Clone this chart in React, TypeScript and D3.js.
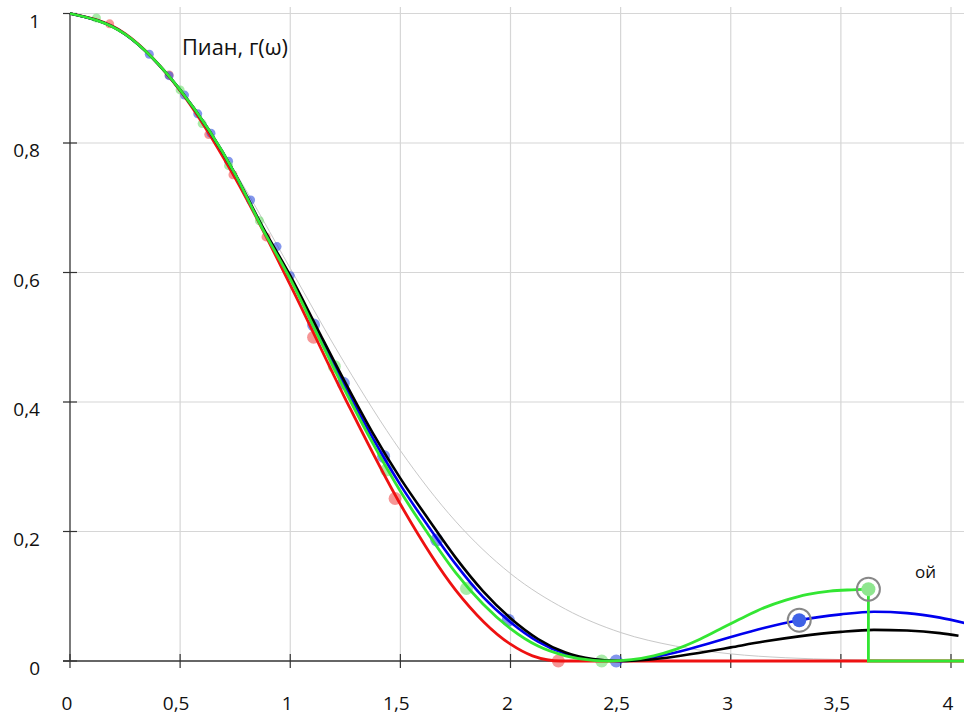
import React from "react";
import * as d3 from "d3";

// ---- data ----
const xTicks = [0, 0.5, 1, 1.5, 2, 2.5, 3, 3.5, 4];
const xTickLabels = ["0", "0,5", "1", "1,5", "2", "2,5", "3", "3,5", "4"];
const yTicks = [0, 0.2, 0.4, 0.6, 0.8, 1];
const yTickLabels = ["0", "0,2", "0,4", "0,6", "0,8", "1"];

const grayX = [0, 0.25, 0.5, 0.75, 1, 1.25, 1.5, 1.75, 2, 2.25, 2.5, 2.75, 3, 3.25, 3.5, 3.75, 4, 4.07];
const grayY = [1, 0.969, 0.8825, 0.755, 0.6065, 0.458, 0.325, 0.216, 0.135, 0.08, 0.044, 0.023, 0.011, 0.005, 0.0022, 0.0009, 0.0003, 0.0003];

const redX = [0, 0.25, 0.5, 0.75, 1, 1.25, 1.5, 1.75, 2, 2.1, 2.23, 3, 4.07];
const redY = [1, 0.969, 0.881, 0.746, 0.581, 0.405, 0.242, 0.11, 0.026, 0.008, 0, 0, 0];

const blueX = [0, 0.25, 0.5, 0.75, 0.875, 1, 1.125, 1.25, 1.375, 1.5, 1.625, 1.75, 1.875, 2, 2.125, 2.25, 2.375, 2.5, 2.6, 2.75, 2.9, 3, 3.15, 3.31, 3.5, 3.65, 3.8, 3.95, 4.07];
const blueY = [1, 0.968, 0.882, 0.752, 0.668, 0.593, 0.507, 0.423, 0.344, 0.272, 0.209, 0.15, 0.099, 0.06, 0.03, 0.011, 0.002, 0, 0.003, 0.013, 0.027, 0.037, 0.051, 0.063, 0.072, 0.076, 0.074, 0.067, 0.058];

const blackX = [0, 0.25, 0.5, 0.75, 0.875, 1, 1.125, 1.25, 1.375, 1.5, 1.625, 1.75, 1.875, 2, 2.125, 2.25, 2.375, 2.5, 2.625, 2.75, 2.9, 3, 3.15, 3.31, 3.5, 3.65, 3.8, 3.95, 4.034];
const blackY = [1, 0.968, 0.882, 0.752, 0.67, 0.595, 0.512, 0.43, 0.352, 0.282, 0.22, 0.16, 0.108, 0.066, 0.034, 0.013, 0.003, 0, 0.002, 0.007, 0.015, 0.021, 0.03, 0.038, 0.045, 0.048, 0.047, 0.043, 0.039];

const greenX = [0, 0.25, 0.5, 0.75, 0.875, 1, 1.125, 1.25, 1.375, 1.5, 1.625, 1.75, 1.875, 2, 2.125, 2.25, 2.375, 2.45, 2.55, 2.65, 2.75, 2.85, 2.95, 3.05, 3.15, 3.25, 3.35, 3.45, 3.55, 3.625];
const greenY = [1, 0.968, 0.882, 0.752, 0.667, 0.59, 0.503, 0.417, 0.336, 0.262, 0.197, 0.137, 0.088, 0.05, 0.023, 0.008, 0.001, 0, 0.002, 0.008, 0.018, 0.032, 0.049, 0.066, 0.082, 0.094, 0.103, 0.108, 0.11, 0.111];
const greenTailX = [3.625, 3.625, 4.07];
const greenTailY = [0.111, 0, 0];

const redDotX = [0.18, 0.45, 0.63, 0.74, 0.89, 1.106, 1.476, 2.217];
const redDotY = [0.984, 0.905, 0.813, 0.751, 0.655, 0.5, 0.251, 0];
const blueDotX = [0.36, 0.45, 0.52, 0.58, 0.64, 0.72, 0.82, 0.94, 1.0, 1.106, 1.241, 1.424, 1.665, 1.99, 2.48];
const blueDotY = [0.937, 0.904, 0.874, 0.845, 0.815, 0.772, 0.712, 0.64, 0.595, 0.519, 0.429, 0.316, 0.187, 0.063, 0];
const greenDotX = [0.12, 0.5, 0.6, 0.72, 0.86, 1.2, 1.437, 1.8, 2.414];
const greenDotY = [0.993, 0.882, 0.83, 0.765, 0.68, 0.455, 0.295, 0.112, 0];

const circledX = [3.311, 3.625];
const circledY = [0.063, 0.111];
const circledColor = ["#3f62e6", "#8fe68f"];

const titleText = "Пиан, г(ω)";
const cornerText = "ой";

export default function App() {
  const W = 964, H = 715;
  const x = d3.scaleLinear().domain([0, 4]).range([70, 951]);
  const y = d3.scaleLinear().domain([0, 1]).range([661, 13.5]);
  const line = (xs: number[], ys: number[], curve = d3.curveMonotoneX) =>
    d3.line<number>().x((d) => x(xs[d])).y((d) => y(ys[d])).curve(curve)(xs.map((_, i) => i)) || "";
  const font = "'Open Sans', 'Noto Sans', sans-serif";
  const dots = (xs: number[], ys: number[], color: string, key: string) =>
    xs.map((v, i) => (
      <circle key={key + i} cx={x(v)} cy={y(ys[i])} r={v < 1.05 ? 4.5 : 6.5} fill={color} opacity={0.6} />
    ));
  return (
    <svg width={W} height={H} style={{ position: "absolute", left: 0, top: 0, background: "#fff" }} fontFamily={font}>
      <rect width={W} height={H} fill="#fff" />
      {/* grid */}
      {yTicks.filter((t) => t > 0).map((t) => (
        <line key={"gy" + t} x1={63} x2={W} y1={y(t)} y2={y(t)} stroke="#d6d6d6" strokeWidth={1.2} />
      ))}
      {xTicks.filter((t) => t > 0).map((t) => (
        <line key={"gx" + t} x1={x(t)} x2={x(t)} y1={7} y2={y(0)} stroke="#d6d6d6" strokeWidth={1.2} />
      ))}
      {/* axes */}
      <line x1={63} x2={W} y1={y(0)} y2={y(0)} stroke="#333" strokeWidth={1.3} />
      <line x1={x(0)} x2={x(0)} y1={13} y2={y(0)} stroke="#333" strokeWidth={1.3} />
      {xTicks.map((t) => (
        <line key={"tx" + t} x1={x(t)} x2={x(t)} y1={y(0) - 7} y2={y(0) + 7} stroke="#333" strokeWidth={1.2} />
      ))}
      {yTicks.map((t) => (
        <line key={"ty" + t} x1={63} x2={77} y1={y(t)} y2={y(t)} stroke="#333" strokeWidth={1.2} />
      ))}
      {xTicks.map((t, i) => (
        <text key={"lx" + t} x={x(t) - (xTickLabels[i].length > 1 ? 4 : 3)} y={710} fontSize={19} textAnchor="middle" fill="#111">
          {xTickLabels[i]}
        </text>
      ))}
      {yTicks.map((t, i) => (
        <text key={"ly" + t} x={40} y={y(t) + 14} fontSize={19} textAnchor="end" fill="#111">
          {yTickLabels[i]}
        </text>
      ))}
      {/* gray reference curve */}
      <path d={line(grayX, grayY)} fill="none" stroke="#c8c8c8" strokeWidth={1} />
      {/* dots */}
      {dots(redDotX, redDotY, "#f05050", "r")}
      {dots(blueDotX, blueDotY, "#3050e0", "b")}
      {dots(greenDotX, greenDotY, "#70e070", "g")}
      {/* curves */}
      <path d={line(redX, redY)} fill="none" stroke="#ee1111" strokeWidth={2.8} />
      <path d={line(blueX, blueY)} fill="none" stroke="#0000ee" strokeWidth={2.6} />
      <path d={line(blackX, blackY)} fill="none" stroke="#000" strokeWidth={2.6} />
      <path d={line(greenX, greenY)} fill="none" stroke="#33e633" strokeWidth={2.8} />
      <path d={line(greenTailX, greenTailY, d3.curveLinear)} fill="none" stroke="#33e633" strokeWidth={2.8} />
      {/* circled markers */}
      {circledX.map((v, i) => (
        <g key={"c" + i}>
          <circle cx={x(v)} cy={y(circledY[i])} r={7} fill={circledColor[i]} />
          <circle cx={x(v)} cy={y(circledY[i])} r={11.5} fill="none" stroke="#888" strokeWidth={2} />
        </g>
      ))}
      {/* texts */}
      <text x={182} y={55} fontSize={22} fill="#111" textLength={106} lengthAdjust="spacingAndGlyphs">{titleText}</text>
      <text x={915} y={578} fontSize={17} fill="#111">{cornerText}</text>
    </svg>
  );
}
